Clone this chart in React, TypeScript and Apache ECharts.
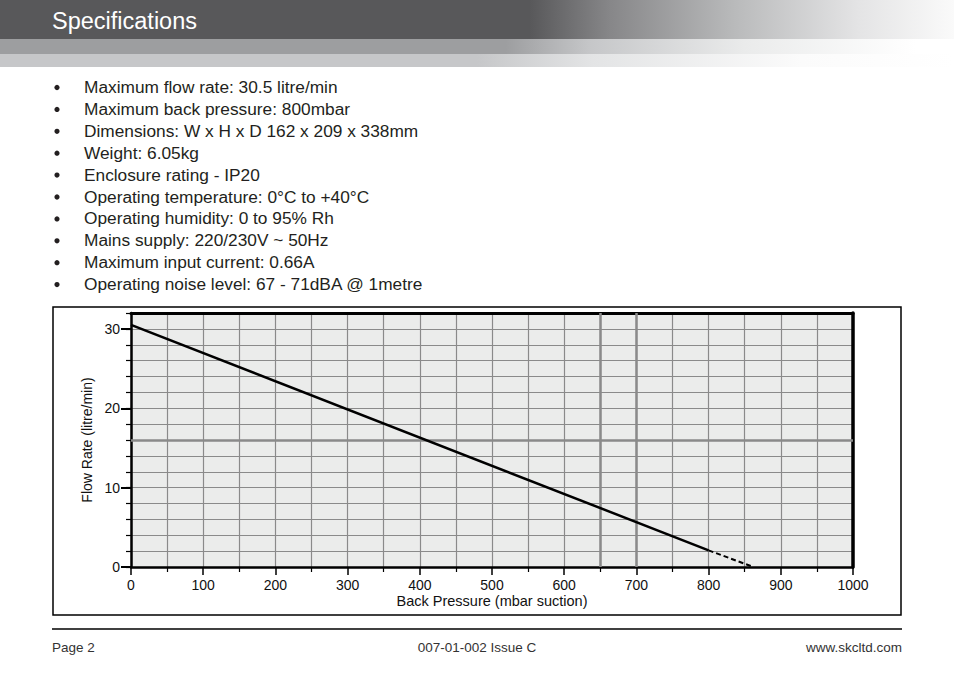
import React, { useEffect, useRef } from "react";
import * as echarts from "echarts";

const TITLE = "Specifications";
const BULLETS = [
  "Maximum flow rate: 30.5 litre/min",
  "Maximum back pressure: 800mbar",
  "Dimensions: W x H x D 162 x 209 x 338mm",
  "Weight: 6.05kg",
  "Enclosure rating - IP20",
  "Operating temperature: 0°C to +40°C",
  "Operating humidity: 0 to 95% Rh",
  "Mains supply: 220/230V ~ 50Hz",
  "Maximum input current: 0.66A",
  "Operating noise level: 67 - 71dBA @ 1metre",
];
const FOOTER_LEFT = "Page 2";
const FOOTER_CENTER = "007-01-002 Issue C";
const FOOTER_RIGHT = "www.skcltd.com";

const X_NAME = "Back Pressure (mbar suction)";
const Y_NAME = "Flow Rate (litre/min)";
const Y_LABELS = [0, 10, 20, 30];
const X_MIN = 0;
const X_MAX = 1000;
const Y_MIN = 0;
const Y_MAX = 32;

// flow rate vs back pressure
const SOLID_CURVE = [
  [0, 30.5],
  [800, 2.1],
];
const DASHED_CURVE = [
  [800, 2.1],
  [862, 0],
];
const HIGHLIGHT_X = [650, 700];
const HIGHLIGHT_Y = [16];

const FONT = "'Liberation Sans', Arial, Helvetica, sans-serif";

export default function App() {
  const ref = useRef<HTMLDivElement>(null);
  useEffect(() => {
    if (!ref.current) return;
    const chart = echarts.init(ref.current, null, { renderer: "svg" });

    const graphics: any[] = [
      {
        type: "rect",
        shape: { x: 0, y: 54, width: 954, height: 13 },
        style: {
          fill: new echarts.graphic.LinearGradient(0, 0, 1, 0, [
            { offset: 0, color: "#c6c7c9" },
            { offset: 0.5, color: "#c6c7c9" },
            { offset: 0.62, color: "#e3e4e5" },
            { offset: 0.84, color: "#fbfbfb" },
            { offset: 1, color: "#ffffff" },
          ]),
        },
        z: 1,
      },
      {
        type: "rect",
        shape: { x: 0, y: 39, width: 954, height: 15 },
        style: {
          fill: new echarts.graphic.LinearGradient(0, 0, 1, 0, [
            { offset: 0, color: "#9d9ea0" },
            { offset: 0.53, color: "#9d9ea0" },
            { offset: 0.62, color: "#c6c7c9" },
            { offset: 0.78, color: "#eaebeb" },
            { offset: 0.96, color: "#ffffff" },
            { offset: 1, color: "#ffffff" },
          ]),
        },
        z: 1,
      },
      {
        type: "rect",
        shape: { x: 0, y: 0, width: 954, height: 39 },
        style: {
          fill: new echarts.graphic.LinearGradient(0, 0, 1, 0, [
            { offset: 0, color: "#58585a" },
            { offset: 0.555, color: "#58585a" },
            { offset: 0.64, color: "#878789" },
            { offset: 0.77, color: "#b9babb" },
            { offset: 0.9, color: "#e4e4e5" },
            { offset: 1, color: "#fafafa" },
          ]),
        },
        z: 1,
      },
      {
        type: "text",
        x: 52,
        y: 21,
        style: {
          text: TITLE,
          fill: "#ffffff",
          font: `23.5px ${FONT}`,
          textAlign: "left",
          textVerticalAlign: "middle",
          align: "left",
          verticalAlign: "middle",
        },
        z: 2,
      },
      // chart frame
      {
        type: "rect",
        shape: { x: 53, y: 307, width: 848, height: 308 },
        style: { fill: "none", stroke: "#000", lineWidth: 1.5 },
        z: 0,
      },
      // footer rule
      {
        type: "line",
        shape: { x1: 52, y1: 629, x2: 902, y2: 629 },
        style: { stroke: "#000", lineWidth: 1.5 },
      },
      {
        type: "text",
        x: 52,
        y: 647,
        style: {
          text: FOOTER_LEFT,
          fill: "#333",
          font: `13.5px ${FONT}`,
          textAlign: "left",
          textVerticalAlign: "middle",
          align: "left",
          verticalAlign: "middle",
        },
      },
      {
        type: "text",
        x: 477,
        y: 647,
        style: {
          text: FOOTER_CENTER,
          fill: "#333",
          font: `13.5px ${FONT}`,
          textAlign: "center",
          textVerticalAlign: "middle",
          align: "center",
          verticalAlign: "middle",
        },
      },
      {
        type: "text",
        x: 902,
        y: 647,
        style: {
          text: FOOTER_RIGHT,
          fill: "#333",
          font: `13.5px ${FONT}`,
          textAlign: "right",
          textVerticalAlign: "middle",
          align: "right",
          verticalAlign: "middle",
        },
      },
    ];

    BULLETS.forEach((b, i) => {
      const y = 87 + i * 21.9;
      graphics.push({
        type: "circle",
        shape: { cx: 57, cy: y + 0.5, r: 2.6 },
        style: { fill: "#231f20" },
      });
      graphics.push({
        type: "text",
        x: 84,
        y: y,
        style: {
          text: b,
          fill: "#231f20",
          font: `17.3px ${FONT}`,
          textAlign: "left",
          textVerticalAlign: "middle",
          align: "left",
          verticalAlign: "middle",
        },
      });
    });

    const axisLabelStyle = { color: "#111", fontSize: 14, fontFamily: FONT };

    chart.setOption({
      animation: false,
      backgroundColor: "#ffffff",
      graphic: graphics,
      grid: {
        left: 131,
        top: 313,
        width: 722,
        height: 254,
        show: true,
        backgroundColor: "#ebeceb",
        borderWidth: 0,
        containLabel: false,
      },
      xAxis: [
        {
          type: "value",
          position: "bottom",
          min: X_MIN,
          max: X_MAX,
          interval: 100,
          name: X_NAME,
          nameLocation: "middle",
          nameGap: 26,
          nameTextStyle: { color: "#111", fontSize: 14.5, fontFamily: FONT },
          axisLine: { show: true, onZero: false, lineStyle: { color: "#000", width: 2.5 } },
          axisTick: { show: true, length: 8, lineStyle: { color: "#000", width: 1.5 } },
          minorTick: { show: true, splitNumber: 2, length: 5, lineStyle: { color: "#000", width: 1.2 } },
          splitLine: { show: true, lineStyle: { color: "#8a8a8a", width: 1.2 } },
          minorSplitLine: { show: true, lineStyle: { color: "#8a8a8a", width: 1.2 } },
          axisLabel: { ...axisLabelStyle, margin: 11, formatter: (v: number) => String(v) },
        },
        {
          type: "value",
          position: "top",
          min: X_MIN,
          max: X_MAX,
          interval: 100,
          axisLine: { show: true, onZero: false, lineStyle: { color: "#000", width: 3 } },
          axisTick: { show: false },
          axisLabel: { show: false },
          splitLine: { show: false },
        },
      ],
      yAxis: [
        {
          type: "value",
          position: "left",
          min: Y_MIN,
          max: Y_MAX,
          interval: 2,
          name: Y_NAME,
          nameLocation: "middle",
          nameGap: 37,
          nameTextStyle: { color: "#111", fontSize: 14, fontFamily: FONT },
          axisLine: { show: true, onZero: false, lineStyle: { color: "#000", width: 2.5 } },
          axisTick: { show: true, length: 5, lineStyle: { color: "#000", width: 1.2 } },
          splitLine: { show: true, lineStyle: { color: "#8a8a8a", width: 1.2 } },
          axisLabel: {
            ...axisLabelStyle,
            margin: 11,
            formatter: (v: number) => (Y_LABELS.includes(v) ? String(v) : ""),
          },
        },
        {
          type: "value",
          position: "left",
          min: Y_MIN,
          max: Y_MAX,
          interval: 2,
          axisLine: { show: false },
          axisTick: {
            show: true,
            length: 10,
            customValues: Y_LABELS,
            lineStyle: { color: "#000", width: 2 },
          },
          axisLabel: { show: false },
          splitLine: { show: false },
        },
        {
          type: "value",
          position: "right",
          min: Y_MIN,
          max: Y_MAX,
          interval: 2,
          axisLine: { show: true, onZero: false, lineStyle: { color: "#000", width: 3.5 } },
          axisTick: { show: false },
          axisLabel: { show: false },
          splitLine: { show: false },
        },
      ],
      series: [
        {
          type: "line",
          xAxisIndex: 0,
          yAxisIndex: 0,
          data: SOLID_CURVE,
          symbol: "none",
          lineStyle: { color: "#000", width: 2.5 },
          z: 5,
          markLine: {
            silent: true,
            symbol: "none",
            label: { show: false },
            lineStyle: { color: "#8a8a8a", width: 2.5, type: "solid" },
            data: [
              ...HIGHLIGHT_X.map((x) => ({ xAxis: x })),
              ...HIGHLIGHT_Y.map((y) => ({ yAxis: y })),
            ],
            z: 1,
          },
        },
        {
          type: "line",
          xAxisIndex: 0,
          yAxisIndex: 0,
          data: DASHED_CURVE,
          symbol: "none",
          lineStyle: { color: "#000", width: 2, type: [5, 3] },
          z: 5,
        },
      ],
    });

    return () => chart.dispose();
  }, []);

  return (
    <div
      ref={ref}
      style={{ position: "absolute", left: 0, top: 0, width: 954, height: 677, background: "#fff" }}
    />
  );
}
